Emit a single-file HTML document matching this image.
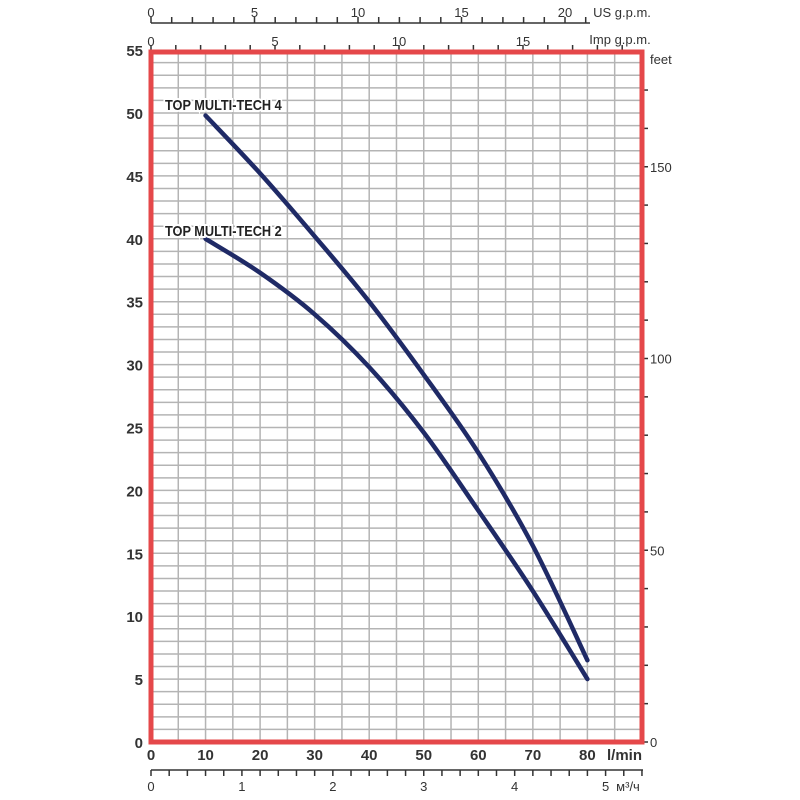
<!DOCTYPE html>
<html><head><meta charset="utf-8"><style>
html,body{margin:0;padding:0;background:#fff}
svg{display:block;font-family:"Liberation Sans",sans-serif}
</style></head><body>
<svg id="s" width="800" height="800" viewBox="0 0 800 800" xmlns="http://www.w3.org/2000/svg">
<g id="grid" stroke="#b4b4b4" stroke-width="1.5"></g>
<g id="ax" stroke="#333" stroke-width="1.5" fill="none"></g>
<g id="txt" fill="#333"></g>
<rect x="151" y="52" width="491" height="690" fill="none" stroke="#e5484a" stroke-width="5"/>
<g id="curves" fill="none" stroke="#1f2a66" stroke-width="4.5" stroke-linecap="round"></g>
<g font-weight="bold" font-size="15" fill="#222" stroke="#fff" stroke-width="4" paint-order="stroke">
<text x="165" y="110" transform="translate(165 0) scale(0.85 1) translate(-165 0)">TOP MULTI-TECH 4</text>
<text x="165" y="236" transform="translate(165 0) scale(0.85 1) translate(-165 0)">TOP MULTI-TECH 2</text>
</g>
</svg>
<script>
const NS="http://www.w3.org/2000/svg";
function el(p,t,a,txt){const e=document.createElementNS(NS,t);for(const k in a)e.setAttribute(k,a[k]);if(txt!==undefined)e.textContent=txt;document.getElementById(p).appendChild(e);return e;}
const X=q=>151+q*5.455, Y=h=>742-h*12.58;
for(let q=5;q<90;q+=5)el("grid","line",{x1:X(q),x2:X(q),y1:52,y2:742});
for(let h=1;h<55;h++)el("grid","line",{x1:151,x2:642,y1:Y(h),y2:Y(h)});
for(let h=0;h<=55;h+=5)el("txt","text",{x:143,y:Y(h)+6,"text-anchor":"end","font-size":"15","font-weight":"bold"},h);
for(let q=0;q<=80;q+=10)el("txt","text",{x:X(q),y:760,"text-anchor":"middle","font-size":"15","font-weight":"bold"},q);
el("txt","text",{x:607,y:760,"font-size":"15","font-weight":"bold"},"l/min");
el("ax","line",{x1:151,x2:643,y1:770,y2:770});
for(let i=0;i<=27;i++){const x=151+i*0.2*16.667*5.455;if(x>644)break;el("ax","line",{x1:x,x2:x,y1:770,y2:776});}
for(let m=0;m<=5;m++)el("txt","text",{x:151+m*16.667*5.455,y:791,"text-anchor":"middle","font-size":"13"},m);
el("txt","text",{x:628,y:791,"text-anchor":"middle","font-size":"13"},"м³/ч");
el("ax","line",{x1:151,x2:590,y1:23,y2:23});
for(let g=0;g<=21;g++){const x=151+g*20.7;el("ax","line",{x1:x,x2:x,y1:17,y2:23});}
for(let g=0;g<=20;g+=5)el("txt","text",{x:151+g*20.7,y:17,"text-anchor":"middle","font-size":"13"},g);
el("txt","text",{x:622,y:17,"text-anchor":"middle","font-size":"13"},"US g.p.m.");
for(let g=0;g<=19;g++){const x=151+g*24.8;el("ax","line",{x1:x,x2:x,y1:45,y2:51});}
for(let g=0;g<=15;g+=5)el("txt","text",{x:151+g*24.8,y:46,"text-anchor":"middle","font-size":"13"},g);
el("txt","text",{x:620,y:44,"text-anchor":"middle","font-size":"13"},"Imp g.p.m.");
for(let f=0;f<=180;f+=10){const y=742-f*3.835;if(y<54)break;el("ax","line",{x1:642,x2:648,y1:y,y2:y});}
for(let f=0;f<=150;f+=50)el("txt","text",{x:650,y:742-f*3.835+5,"font-size":"13"},f);
el("txt","text",{x:650,y:64,"font-size":"13"},"feet");
function path(pts){const P=pts.map(p=>[X(p[0]),Y(p[1])]);let d="M"+P[0];for(let i=0;i<P.length-1;i++){const p0=P[Math.max(0,i-1)],p1=P[i],p2=P[i+1],p3=P[Math.min(P.length-1,i+2)];const c1=[p1[0]+(p2[0]-p0[0])/6,p1[1]+(p2[1]-p0[1])/6],c2=[p2[0]-(p3[0]-p1[0])/6,p2[1]-(p3[1]-p1[1])/6];d+="C"+c1+" "+c2+" "+p2;}return d;}
el("curves","path",{d:path([[10,49.8],[20,45.2],[30,40.2],[40,35],[50,29.2],[60,23],[70,15.6],[80,6.5]])});
el("curves","path",{d:path([[10,40],[20,37.3],[30,34],[40,29.8],[50,24.6],[60,18.4],[70,12],[80,5]])});
</script>
</body></html>
